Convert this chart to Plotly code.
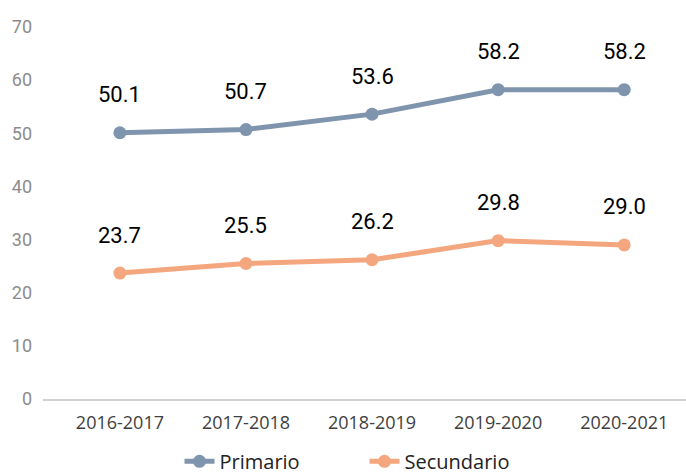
import plotly.graph_objects as go

categories = ["2016-2017", "2017-2018", "2018-2019", "2019-2020", "2020-2021"]
primario = [50.1, 50.7, 53.6, 58.2, 58.2]
secundario = [23.7, 25.5, 26.2, 29.8, 29.0]
y_ticks = [0, 10, 20, 30, 40, 50, 60, 70]

c_prim = "#7F95AE"
c_sec = "#F4A77F"

fig = go.Figure()
fig.add_trace(go.Scatter(x=categories, y=primario, name="Primario", mode="lines+markers",
                         line=dict(color=c_prim, width=5), marker=dict(size=13, color=c_prim)))
fig.add_trace(go.Scatter(x=categories, y=secundario, name="Secundario", mode="lines+markers",
                         line=dict(color=c_sec, width=5), marker=dict(size=13, color=c_sec)))

for series in (primario, secundario):
    for c, v in zip(categories, series):
        fig.add_annotation(x=c, y=v, text=f"{v:.1f}", showarrow=False, yshift=38,
                           font=dict(family="Roboto", size=22, color="#000000"))

fig.update_layout(
    width=686, height=474,
    margin=dict(l=43, r=0, t=27, b=75, autoexpand=False),
    plot_bgcolor="white", paper_bgcolor="white",
    showlegend=True,
    legend=dict(orientation="h", x=0.5, xanchor="center", y=-0.22, yanchor="bottom",
                font=dict(family="Open Sans", size=20, color="#222222"),
                entrywidth=140, entrywidthmode="pixels"),
    xaxis=dict(type="category", range=[-0.61, 4.49], showgrid=False, showline=True,
               linecolor="#D0D0D0", linewidth=2, ticks="", automargin=False,
               ticklabelstandoff=6,
               tickfont=dict(family="Open Sans", size=18, color="#404040")),
    yaxis=dict(range=[0, 70], tickvals=y_ticks, showgrid=False, showline=False, zeroline=False,
               ticks="", automargin=False,
               tickfont=dict(family="Roboto", size=18, color="#8C8C8C"), ticklabelstandoff=10),
)
fig.write_html("out.html", config={"displayModeBar": False},
               post_script="document.body.style.margin='0';")
